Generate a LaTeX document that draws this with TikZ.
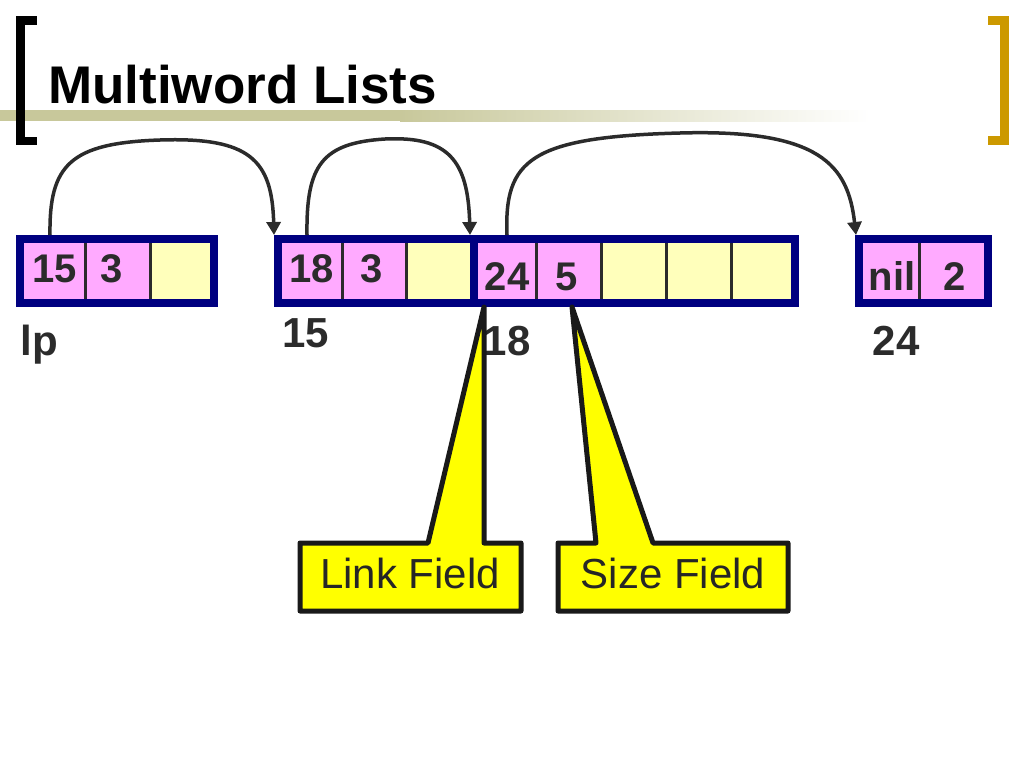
\documentclass[tikz,border=0pt]{standalone}
\usepackage{fontspec}
\setmainfont{Liberation Sans}
\usetikzlibrary{arrows.meta,calc}
\definecolor{navy}{RGB}{0,0,128}
\definecolor{cellpink}{RGB}{255,170,255}
\definecolor{cellyellow}{RGB}{255,255,187}
\definecolor{callyellow}{RGB}{255,255,0}
\definecolor{gold}{RGB}{204,153,0}
\definecolor{olivebar}{RGB}{200,200,155}
\definecolor{ink}{RGB}{43,43,43}
\begin{document}
\begin{tikzpicture}[x=1pt,y=-1pt,
  box/.style={draw=navy,line width=8pt,minimum width=#1,minimum height=64pt,inner sep=0pt},
  pcell/.style={fill=cellpink,minimum width=#1,minimum height=56pt,inner sep=0pt,outer sep=0pt},
  ycell/.style={fill=cellyellow,minimum width=#1,minimum height=56pt,inner sep=0pt,outer sep=0pt},
  divider/.style={draw=ink,line width=3pt},
  num/.style={anchor=base,font=\fontsize{40}{48}\selectfont\bfseries,text=ink,inner sep=0pt},
  lbl/.style={anchor=base,font=\fontsize{42}{50}\selectfont\bfseries,text=ink,inner sep=0pt},
  link/.style={draw=ink,line width=3.5pt,-{Triangle[length=13pt,width=14pt]}},
  callout/.style={fill=callyellow,draw=black!90,line width=5pt,line join=round},
  calltext/.style={anchor=base,font=\fontsize{42}{50}\selectfont,text=black!85,inner sep=0pt}
]
\useasboundingbox (0,0) rectangle (1024,768);
% header
\fill[olivebar] (0,110) rectangle (400,121);
\shade[left color=olivebar,right color=white] (400,110) rectangle (870,121);
\fill[black] (16,16) rectangle (25,145);
\fill[black] (16,16) rectangle (37,25);
\fill[black] (16,137) rectangle (37,145);
\fill[gold] (1000,16) rectangle (1009,145);
\fill[gold] (988,16) rectangle (1009,25);
\fill[gold] (988,136) rectangle (1009,145);
\node[anchor=base west,font=\fontsize{53}{60}\selectfont\bfseries,inner sep=0pt] (title) at (48,103) {Multiword Lists};

% cells
\node[pcell=61pt] (c11) at (54.5,271) {};
\node[pcell=65pt] (c12) at (117.5,271) {};
\node[ycell=60pt] (c13) at (180,271) {};
\node[pcell=60pt] (c21) at (312,271) {};
\node[pcell=64pt] (c22) at (374,271) {};
\node[ycell=64pt] (c23) at (438,271) {};
\node[pcell=58pt] (c31) at (507,271) {};
\node[pcell=65pt] (c32) at (568.5,271) {};
\node[ycell=65pt] (c33) at (633.5,271) {};
\node[ycell=65pt] (c34) at (698.5,271) {};
\node[ycell=60pt] (c35) at (761,271) {};
\node[pcell=56pt] (c41) at (891,271) {};
\node[pcell=65pt] (c42) at (951.5,271) {};

\foreach \c in {c11,c12,c21,c22,c31,c32,c33,c34,c41}
  \draw[divider] (\c.north east) -- (\c.south east);

% boxes
\node[box=194pt] (b1) at (117,271) {};
\node[box=196pt] (b2) at (376,271) {};
\node[box=321pt] (b3) at (634.5,271) {};
\node[box=129pt] (b4) at (923.5,271) {};

% cell texts
\node[num] (t11) at (55,282) {15};
\node[num] (t12) at (112,282) {3};
\node[num] (t21) at (312,282) {18};
\node[num] (t22) at (372,282) {3};
\node[num] (t31) at (507,290) {24};
\node[num] (t32) at (567,290) {5};
\node[num] (t41) at (892,290) {nil};
\node[num] (t42) at (955,290) {2};

% address labels
\node[lbl] (lp) at (39,355) {lp};
\node[lbl] (a15) at (306,347) {15};
\node[lbl] (a18) at (507,355) {18};
\node[lbl] (a24) at (896,355) {24};

% links
\draw[link] ($(c11.north |- b1.north)+(-4.5,0)$) .. controls (49,165) and (70,143) .. (160,140)
   .. controls (250,137) and (272,160) .. ($(b2.north west)+(0,0)$);
\draw[link] ($(c21.north |- b2.north)+(-5,0)$) .. controls (306,165) and (322,143) .. (385,139)
   .. controls (448,136) and (468,160) .. (b3.north west);
\draw[link] (c31.north |- b3.north) .. controls (504,160) and (530,137) .. (680,133)
   .. controls (820,129) and (848,165) .. ($(b4.north west)+(1,0)$);

% callouts
\draw[callout] (300,543) -- (428,543) -- ($(b3.south west)+(14,0)$) -- (484,543) -- (521,543) -- (521,611) -- (300,611) -- cycle;
\draw[callout] (558,543) -- (596,543) -- ($(b3.south west)+(102,0)$) -- (653,543) -- (788,543) -- (788,611) -- (558,611) -- cycle;
\node[calltext] (lf) at (410,588) {Link Field};
\node[calltext] (sf) at (673,588) {Size Field};
\end{tikzpicture}
\end{document}
